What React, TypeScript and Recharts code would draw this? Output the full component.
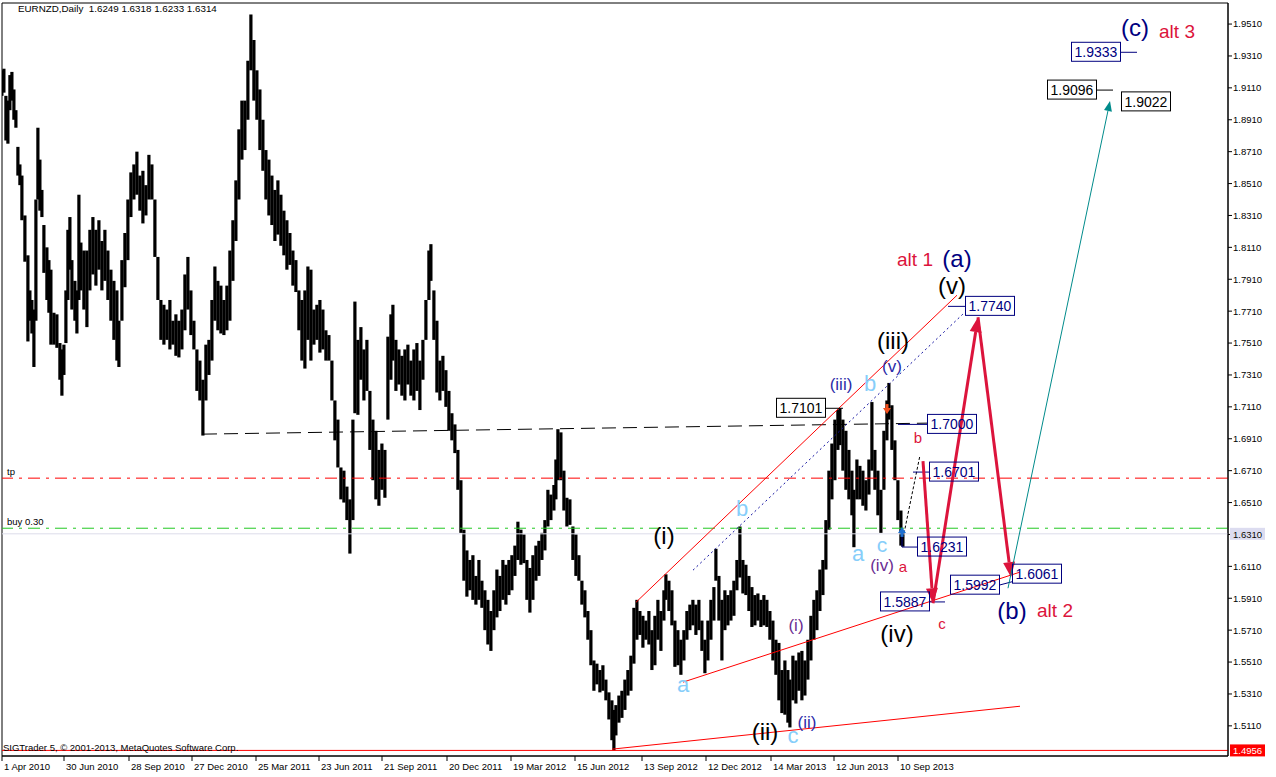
import React from 'react';
import { ComposedChart, Bar, XAxis, YAxis, ReferenceLine, ReferenceDot, ReferenceArea } from 'recharts';

const FONT = '"Liberation Sans", Arial, sans-serif';

// trading-day index (1 bar per pixel column in the original terminal)
const days = [
  2, 4, 6, 8, 10, 12, 14, 16, 18, 20,
  22, 25, 28, 30, 32, 34, 36, 38, 40, 42,
  44, 47, 49, 51, 54, 57, 60, 62, 64, 66,
  68, 70, 72, 75, 77, 79, 81, 84, 87, 90,
  93, 96, 99, 102, 105, 108, 111, 114, 117, 119,
  122, 125, 128, 131, 134, 137, 140, 143, 146, 149,
  152, 155, 158, 161, 164, 167, 170, 173, 176, 179,
  182, 185, 188, 191, 194, 197, 200, 203, 206, 209,
  212, 215, 218, 221, 224, 227, 230, 233, 236, 239,
  242, 245, 248, 251, 254, 257, 260, 263, 266, 269,
  272, 275, 278, 281, 284, 287, 290, 293, 296, 299,
  302, 305, 308, 311, 314, 317, 320, 323, 326, 329,
  332, 335, 338, 341, 344, 347, 350, 353, 355, 358,
  361, 364, 367, 370, 373, 376, 379, 382, 385, 388,
  391, 393, 396, 399, 402, 405, 408, 411, 414, 417,
  420, 423, 426, 429, 431, 434, 437, 440, 443, 446,
  449, 452, 455, 458, 461, 464, 467, 470, 473, 476,
  479, 482, 485, 488, 491, 494, 497, 500, 503, 506,
  509, 512, 515, 518, 521, 524, 527, 530, 533, 536,
  539, 542, 545, 548, 551, 554, 556, 558, 561, 564,
  567, 570, 573, 576, 579, 582, 585, 588, 591, 594,
  597, 600, 603, 606, 609, 612, 614, 616, 619, 622,
  625, 628, 631, 634, 637, 640, 643, 646, 649, 652,
  655, 658, 661, 664, 666, 669, 672, 675, 678, 681,
  684, 687, 690, 693, 696, 699, 702, 705, 708, 711,
  714, 716, 719, 722, 725, 728, 731, 734, 737, 740,
  743, 746, 749, 752, 755, 758, 761, 764, 767, 770,
  773, 776, 779, 782, 785, 788, 790, 793, 796, 799,
  802, 805, 808, 811, 814, 817, 820, 823, 826, 829,
  832, 835, 838, 840, 843, 846, 849, 852, 854, 857,
  860, 863, 866, 869, 872, 875, 878, 881, 884, 887,
  889, 892, 895, 898, 901, 903,
];

const highs = [
  1.922, 1.923, 1.906, 1.903, 1.919, 1.921, 1.910, 1.897, 1.874, 1.863,
  1.856, 1.831, 1.806, 1.784, 1.778, 1.772, 1.841, 1.886, 1.866, 1.847,
  1.825, 1.811, 1.803, 1.797, 1.770, 1.769, 1.751, 1.747, 1.750, 1.784,
  1.822, 1.830, 1.803, 1.790, 1.784, 1.844, 1.814, 1.809, 1.809, 1.822,
  1.830, 1.822, 1.828, 1.815, 1.822, 1.809, 1.797, 1.790, 1.784, 1.765,
  1.803, 1.820, 1.841, 1.858, 1.863, 1.871, 1.856, 1.859, 1.850, 1.869,
  1.863, 1.841, 1.805, 1.778, 1.775, 1.772, 1.778, 1.765, 1.769, 1.765,
  1.772, 1.794, 1.805, 1.784, 1.765, 1.747, 1.740, 1.728, 1.750, 1.753,
  1.778, 1.799, 1.790, 1.787, 1.778, 1.787, 1.809, 1.828, 1.853, 1.885,
  1.903, 1.903, 1.928, 1.957, 1.941, 1.922, 1.910, 1.891, 1.872, 1.866,
  1.856, 1.847, 1.853, 1.844, 1.834, 1.828, 1.820, 1.809, 1.803, 1.784,
  1.778, 1.784, 1.799, 1.797, 1.772, 1.775, 1.778, 1.772, 1.759, 1.756,
  1.740, 1.715, 1.703, 1.673, 1.671, 1.661, 1.653, 1.703, 1.777, 1.753,
  1.761, 1.747, 1.753, 1.721, 1.703, 1.696, 1.684, 1.688, 1.684, 1.755,
  1.769, 1.775, 1.753, 1.747, 1.743, 1.747, 1.750, 1.740, 1.747, 1.751,
  1.740, 1.753, 1.778, 1.809, 1.813, 1.784, 1.765, 1.740, 1.743, 1.734,
  1.721, 1.707, 1.700, 1.684, 1.665, 1.634, 1.621, 1.615, 1.618, 1.605,
  1.615, 1.602, 1.596, 1.590, 1.583, 1.596, 1.609, 1.605, 1.615, 1.612,
  1.615, 1.618, 1.624, 1.639, 1.634, 1.631, 1.615, 1.610, 1.618, 1.624,
  1.627, 1.632, 1.640, 1.659, 1.656, 1.662, 1.678, 1.697, 1.695, 1.671,
  1.654, 1.653, 1.636, 1.631, 1.618, 1.602, 1.596, 1.583, 1.571, 1.552,
  1.550, 1.546, 1.549, 1.540, 1.532, 1.527, 1.521, 1.524, 1.530, 1.533,
  1.540, 1.546, 1.555, 1.585, 1.590, 1.583, 1.580, 1.577, 1.583, 1.571,
  1.580, 1.590, 1.583, 1.596, 1.606, 1.602, 1.596, 1.577, 1.571, 1.565,
  1.571, 1.583, 1.587, 1.590, 1.587, 1.590, 1.577, 1.565, 1.577, 1.590,
  1.598, 1.622, 1.605, 1.590, 1.596, 1.593, 1.596, 1.602, 1.615, 1.636,
  1.615, 1.612, 1.605, 1.598, 1.593, 1.594, 1.590, 1.593, 1.590, 1.583,
  1.577, 1.565, 1.563, 1.546, 1.552, 1.546, 1.540, 1.555, 1.552, 1.557,
  1.558, 1.552, 1.565, 1.580, 1.590, 1.596, 1.609, 1.615, 1.640, 1.671,
  1.688, 1.703, 1.709, 1.7101, 1.703, 1.696, 1.684, 1.671, 1.659, 1.678,
  1.674, 1.671, 1.665, 1.678, 1.714, 1.684, 1.671, 1.659, 1.696, 1.715,
  1.726, 1.712, 1.690, 1.665, 1.646, 1.6318,
];

const lows = [
  1.906, 1.908, 1.878, 1.876, 1.897, 1.903, 1.891, 1.886, 1.856, 1.850,
  1.828, 1.802, 1.752, 1.765, 1.757, 1.736, 1.765, 1.841, 1.834, 1.830,
  1.795, 1.778, 1.770, 1.750, 1.750, 1.748, 1.728, 1.718, 1.731, 1.751,
  1.778, 1.797, 1.772, 1.765, 1.757, 1.778, 1.784, 1.772, 1.761, 1.784,
  1.794, 1.787, 1.797, 1.784, 1.790, 1.778, 1.765, 1.753, 1.740, 1.736,
  1.765, 1.786, 1.803, 1.830, 1.841, 1.844, 1.834, 1.826, 1.831, 1.841,
  1.841, 1.805, 1.778, 1.753, 1.750, 1.753, 1.747, 1.750, 1.743, 1.742,
  1.747, 1.759, 1.772, 1.756, 1.747, 1.721, 1.715, 1.693, 1.715, 1.731,
  1.740, 1.765, 1.759, 1.757, 1.756, 1.759, 1.765, 1.790, 1.815, 1.841,
  1.866, 1.872, 1.891, 1.922, 1.903, 1.891, 1.872, 1.859, 1.841, 1.831,
  1.825, 1.815, 1.819, 1.812, 1.806, 1.797, 1.800, 1.787, 1.783, 1.759,
  1.740, 1.735, 1.753, 1.740, 1.750, 1.753, 1.745, 1.747, 1.740, 1.740,
  1.715, 1.690, 1.673, 1.653, 1.651, 1.640, 1.619, 1.640, 1.707, 1.706,
  1.728, 1.715, 1.721, 1.684, 1.665, 1.653, 1.649, 1.659, 1.654, 1.703,
  1.728, 1.740, 1.721, 1.725, 1.718, 1.715, 1.725, 1.718, 1.715, 1.721,
  1.709, 1.728, 1.753, 1.778, 1.790, 1.753, 1.720, 1.715, 1.721, 1.711,
  1.696, 1.690, 1.682, 1.659, 1.632, 1.602, 1.592, 1.596, 1.590, 1.587,
  1.590, 1.585, 1.571, 1.562, 1.558, 1.571, 1.579, 1.583, 1.590, 1.587,
  1.593, 1.596, 1.605, 1.615, 1.612, 1.613, 1.590, 1.582, 1.590, 1.602,
  1.605, 1.615, 1.621, 1.636, 1.640, 1.646, 1.653, 1.665, 1.665, 1.646,
  1.636, 1.637, 1.615, 1.605, 1.602, 1.587, 1.579, 1.565, 1.549, 1.533,
  1.537, 1.532, 1.533, 1.527, 1.515, 1.502, 1.4956, 1.505, 1.513, 1.516,
  1.521, 1.530, 1.533, 1.550, 1.565, 1.568, 1.560, 1.565, 1.562, 1.546,
  1.549, 1.565, 1.558, 1.577, 1.590, 1.583, 1.574, 1.548, 1.549, 1.543,
  1.552, 1.565, 1.571, 1.574, 1.568, 1.571, 1.558, 1.544, 1.552, 1.565,
  1.577, 1.602, 1.577, 1.552, 1.571, 1.574, 1.577, 1.580, 1.596, 1.604,
  1.594, 1.593, 1.583, 1.573, 1.574, 1.577, 1.573, 1.574, 1.573, 1.565,
  1.552, 1.543, 1.527, 1.519, 1.518, 1.513, 1.510, 1.527, 1.525, 1.533,
  1.527, 1.530, 1.540, 1.552, 1.565, 1.571, 1.583, 1.593, 1.609, 1.634,
  1.653, 1.665, 1.684, 1.687, 1.671, 1.659, 1.653, 1.643, 1.623, 1.653,
  1.653, 1.649, 1.646, 1.656, 1.671, 1.659, 1.643, 1.632, 1.659, 1.690,
  1.703, 1.684, 1.665, 1.640, 1.624, 1.6233,
];

const priceTicks = [
  1.511, 1.531, 1.551, 1.571, 1.591, 1.611, 1.631, 1.651, 1.671, 1.691, 1.711, 1.731,
  1.751, 1.771, 1.791, 1.811, 1.831, 1.851, 1.871, 1.891, 1.911, 1.931, 1.951,
];
const dateTicks = [2, 64, 129, 192, 256, 319, 382, 447, 511, 575, 642, 706, 771, 834, 898];
const dateLabels = [
  '1 Apr 2010', '30 Jun 2010', '28 Sep 2010', '27 Dec 2010', '25 Mar 2011', '23 Jun 2011',
  '21 Sep 2011', '20 Dec 2011', '19 Mar 2012', '15 Jun 2012', '13 Sep 2012', '12 Dec 2012',
  '14 Mar 2013', '12 Jun 2013', '10 Sep 2013',
];

const tpLevel = 1.6663;
const buyLevel = 1.6349;
const lastClose = 1.6314;
const lowMark = 1.4956;

const Y_MIN = 1.4921;
const Y_MAX = 1.9642;
const X_MIN = 2;
const X_MAX = 1228;

const NAVY = '#00007f';
const BLUE = '#2a2aa8';
const CRIMSON = '#dc143c';
const LIGHT = '#87cefa';
const PURPLE = '#6a2c91';

// analysis lines drawn on the chart (day, price)
const trendLines = [
  { from: [203, 1.6939], to: [928, 1.7008], color: '#000', dash: '14 7' },
  { from: [636, 1.5885], to: [957, 1.781], color: '#ff0000' },
  { from: [683, 1.5384], to: [1020, 1.6074], color: '#ff0000' },
  { from: [612, 1.4964], to: [1020, 1.5233], color: '#ff0000' },
  { from: [693, 1.6086], to: [966, 1.771], color: '#1010a0', dash: '2 3' },
  { from: [902, 1.6255], to: [920, 1.6807], color: '#000', dash: '3 2' },
  { from: [825, 1.7101], to: [843, 1.7101], color: '#000' },
  { from: [898, 1.7], to: [928, 1.7], color: NAVY },
  { from: [913, 1.6701], to: [930, 1.6701], color: NAVY },
  { from: [902, 1.6318], to: [902, 1.6231], color: NAVY },
  { from: [902, 1.6231], to: [918, 1.6231], color: NAVY },
  { from: [929, 1.5887], to: [945, 1.5887], color: NAVY },
  { from: [999, 1.5992], to: [1013, 1.6015], color: NAVY },
  { from: [948, 1.774], to: [966, 1.774], color: NAVY },
  { from: [1120, 1.9333], to: [1137, 1.9333], color: NAVY },
  { from: [1097, 1.9096], to: [1113, 1.9096], color: '#000' },
];

const arrows = [
  { from: [923, 1.677], to: [933, 1.5879], color: CRIMSON, width: 3, head: 15 },
  { from: [933, 1.5879], to: [978, 1.7672], color: CRIMSON, width: 3, head: 15 },
  { from: [978, 1.7672], to: [1011, 1.6042], color: CRIMSON, width: 3, head: 15 },
  { from: [1008, 1.5973], to: [1110, 1.9027], color: '#008b8b', width: 1, head: 10 },
];

// trade signal marks: direction -1 = sell (down), 1 = buy (up)
const signalMarks = [
  { day: 887, price: 1.7096, dir: -1, color: '#f0501e' },
  { day: 902, price: 1.6326, dir: 1, color: '#1e6fd0' },
];

const priceBoxes = [
  { text: '1.7101', day: 801, color: '#000' },
  { text: '1.7000', day: 952, color: NAVY },
  { text: '1.6701', day: 954, color: NAVY },
  { text: '1.6231', day: 942, color: NAVY },
  { text: '1.5887', day: 905, color: NAVY },
  { text: '1.5992', day: 975, color: NAVY },
  { text: '1.6061', day: 1037, color: NAVY },
  { text: '1.7740', day: 990, color: NAVY },
  { text: '1.9333', day: 1096, color: NAVY },
  { text: '1.9096', day: 1072, color: '#000' },
  { text: '1.9022', day: 1146, color: '#000' },
];

const waveLabels = [
  { text: '(c)', day: 1135, price: 1.949, color: NAVY, size: 24 },
  { text: 'alt 3', day: 1177, price: 1.9466, color: CRIMSON, size: 19 },
  { text: 'alt 1', day: 915, price: 1.8036, color: CRIMSON, size: 19 },
  { text: '(a)', day: 957, price: 1.8042, color: NAVY, size: 24 },
  { text: '(v)', day: 952, price: 1.7873, color: '#000', size: 24 },
  { text: '(iii)', day: 893, price: 1.7525, color: '#000', size: 24 },
  { text: '(v)', day: 892, price: 1.7365, color: BLUE, size: 17 },
  { text: '(iii)', day: 841, price: 1.7252, color: BLUE, size: 17 },
  { text: 'b', day: 870, price: 1.7259, color: LIGHT, size: 22 },
  { text: 'b', day: 918, price: 1.692, color: CRIMSON, size: 15 },
  { text: '(i)', day: 664, price: 1.6306, color: '#000', size: 24 },
  { text: 'b', day: 742, price: 1.6475, color: LIGHT, size: 22 },
  { text: 'a', day: 858, price: 1.6193, color: LIGHT, size: 22 },
  { text: 'c', day: 882, price: 1.6250, color: LIGHT, size: 21 },
  { text: '(iv)', day: 882, price: 1.6118, color: PURPLE, size: 17 },
  { text: 'a', day: 903, price: 1.6111, color: CRIMSON, size: 15 },
  { text: '(iv)', day: 897, price: 1.569, color: '#000', size: 24 },
  { text: 'c', day: 942, price: 1.5754, color: CRIMSON, size: 15 },
  { text: '(b)', day: 1012, price: 1.5835, color: NAVY, size: 24 },
  { text: 'alt 2', day: 1055, price: 1.5835, color: CRIMSON, size: 19 },
  { text: 'a', day: 683, price: 1.5371, color: LIGHT, size: 22 },
  { text: '(i)', day: 796, price: 1.5741, color: PURPLE, size: 17 },
  { text: '(ii)', day: 765, price: 1.5077, color: '#000', size: 24 },
  { text: 'c', day: 793, price: 1.5052, color: LIGHT, size: 22 },
  { text: '(ii)', day: 807, price: 1.5133, color: BLUE, size: 17 },
];

const chartData = days.map((d, i) => ({ day: d, range: [lows[i], highs[i]] }));

// fixed-width high-low bar, centred on the slot the library hands us
const PriceBar = (p: any) => {
  if (p.height == null || isNaN(p.y)) return null;
  const cx = p.x + p.width / 2;
  return <rect x={cx - 1.6} y={p.y} width={3.2} height={Math.max(p.height, 1)} fill="#000" />;
};

const arrowShape = (color: string, width: number, head: number) => (p: any) => {
  const { x1, y1, x2, y2 } = p;
  const a = Math.atan2(y2 - y1, x2 - x1);
  const bx = x2 - head * Math.cos(a);
  const by = y2 - head * Math.sin(a);
  const w = head * 0.4;
  const pts = `${x2},${y2} ${bx - w * Math.sin(a)},${by + w * Math.cos(a)} ${bx + w * Math.sin(a)},${by - w * Math.cos(a)}`;
  return (
    <g>
      <line x1={x1} y1={y1} x2={bx} y2={by} stroke={color} strokeWidth={width} />
      <polygon points={pts} fill={color} />
    </g>
  );
};

const signalShape = (dir: number, color: string) => (p: any) => {
  const { cx, cy } = p;
  const tip = cy - dir * 5;
  const base = cy + dir * 1;
  return (
    <g fill={color}>
      <polygon points={`${cx},${tip} ${cx - 4},${base} ${cx + 4},${base}`} />
      <rect x={cx - 1.5} y={dir > 0 ? base : base - 4} width={3} height={4} />
    </g>
  );
};

const boxShape = (text: string, color: string) => (p: any) => (
  <g>
    <rect x={p.cx - 24.5} y={p.cy - 10} width={49} height={19} fill="none" stroke={color} strokeWidth={1} />
    <text x={p.cx} y={p.cy + 5} textAnchor="middle" fontSize={14} fontFamily={FONT} fill={color}>
      {text}
    </text>
  </g>
);

const textShape = (text: string, color: string, size: number) => (p: any) => (
  <text x={p.cx} y={p.cy} textAnchor="middle" dominantBaseline="central" fontSize={size} fontFamily={FONT} fill={color}>
    {text}
  </text>
);

const smallText = (text: string) => (p: any) => (
  <text x={p.cx} y={p.cy - 3} fontSize={9.5} fontFamily={FONT} fill="#000">
    {text}
  </text>
);

const axisTag = (text: string, bg: string) => (p: any) => (
  <g>
    <rect x={p.cx + 2} y={p.cy - 6} width={35} height={12} fill={bg} />
    <text x={p.cx + 5} y={p.cy + 4} fontSize={9.5} fontFamily={FONT} fill="#fff">
      {text}
    </text>
  </g>
);

const DateTick = (p: any) => {
  const i = dateTicks.indexOf(p.payload.value);
  return (
    <text x={p.x + 2} y={p.y} dy={9} fontSize={9.5} fontFamily={FONT} fill="#000" textAnchor="start">
      {dateLabels[i]}
    </text>
  );
};

export default function App() {
  return (
    <div style={{ position: 'relative', width: 1276, height: 777, background: '#fff' }}>
      <style>{'body{margin:0}'}</style>
      <ComposedChart width={1276} height={777} data={chartData} margin={{ top: 3, right: 0, bottom: 0, left: 2 }}>
        <XAxis
          type="number"
          dataKey="day"
          domain={[X_MIN, X_MAX]}
          allowDataOverflow
          ticks={dateTicks}
          interval={0}
          height={21}
          tickSize={5}
          tickMargin={0}
          axisLine={{ stroke: '#000' }}
          tickLine={{ stroke: '#000' }}
          tick={<DateTick />}
        />
        <YAxis
          type="number"
          orientation="right"
          domain={[Y_MIN, Y_MAX]}
          allowDataOverflow
          ticks={priceTicks}
          interval={0}
          width={48}
          tickSize={4}
          tickMargin={1}
          tickFormatter={(v: number) => v.toFixed(4)}
          axisLine={{ stroke: '#000' }}
          tickLine={{ stroke: '#000' }}
          tick={{ fill: '#000', fontSize: 9.5, fontFamily: FONT }}
        />
        <ReferenceArea x1={X_MIN} x2={X_MAX} y1={Y_MIN} y2={Y_MAX} fill="none" stroke="#000" strokeWidth={1} />
        <ReferenceLine y={tpLevel} stroke="#ff0000" strokeDasharray="12 6 3 6" />
        <ReferenceLine y={buyLevel} stroke="#22c822" strokeDasharray="12 6 3 6" />
        <ReferenceLine y={lastClose} stroke="#dcdcea" />
        <ReferenceLine y={lowMark} stroke="#ff0000" />
        <Bar dataKey="range" fill="#000" barSize={2} shape={<PriceBar />} isAnimationActive={false} />
        {trendLines.map((l, i) => (
          <ReferenceLine
            key={`t${i}`}
            segment={[{ x: l.from[0], y: l.from[1] }, { x: l.to[0], y: l.to[1] }]}
            stroke={l.color}
            strokeWidth={1}
            strokeDasharray={l.dash}
          />
        ))}
        {arrows.map((a, i) => (
          <ReferenceLine
            key={`a${i}`}
            segment={[{ x: a.from[0], y: a.from[1] }, { x: a.to[0], y: a.to[1] }]}
            shape={arrowShape(a.color, a.width, a.head)}
          />
        ))}
        {signalMarks.map((s, i) => (
          <ReferenceDot key={`s${i}`} x={s.day} y={s.price} shape={signalShape(s.dir, s.color)} />
        ))}
        {priceBoxes.map((b, i) => (
          <ReferenceDot key={`b${i}`} x={b.day} y={Number(b.text)} shape={boxShape(b.text, b.color)} />
        ))}
        {waveLabels.map((w, i) => (
          <ReferenceDot key={`w${i}`} x={w.day} y={w.price} shape={textShape(w.text, w.color, w.size)} />
        ))}
        <ReferenceDot x={7} y={tpLevel} shape={smallText('tp')} />
        <ReferenceDot x={7} y={buyLevel} shape={smallText('buy 0.30')} />
        <ReferenceDot x={X_MAX} y={lastClose} shape={axisTag('1.6314', '#dcdcf0')} />
        <ReferenceDot x={X_MAX} y={lowMark} shape={axisTag('1.4956', '#ff0000')} />
      </ComposedChart>
      <div style={{ position: 'absolute', left: 18, top: 4, fontFamily: FONT, fontSize: 9.8, lineHeight: '10px', whiteSpace: 'pre' }}>
        {'EURNZD,Daily  1.6249 1.6318 1.6233 1.6314'}
      </div>
      <div style={{ position: 'absolute', left: 3, top: 743, fontFamily: FONT, fontSize: 9.5, lineHeight: '10px', whiteSpace: 'pre' }}>
        {'SIGTrader 5, © 2001-2013, MetaQuotes Software Corp.'}
      </div>
    </div>
  );
}
